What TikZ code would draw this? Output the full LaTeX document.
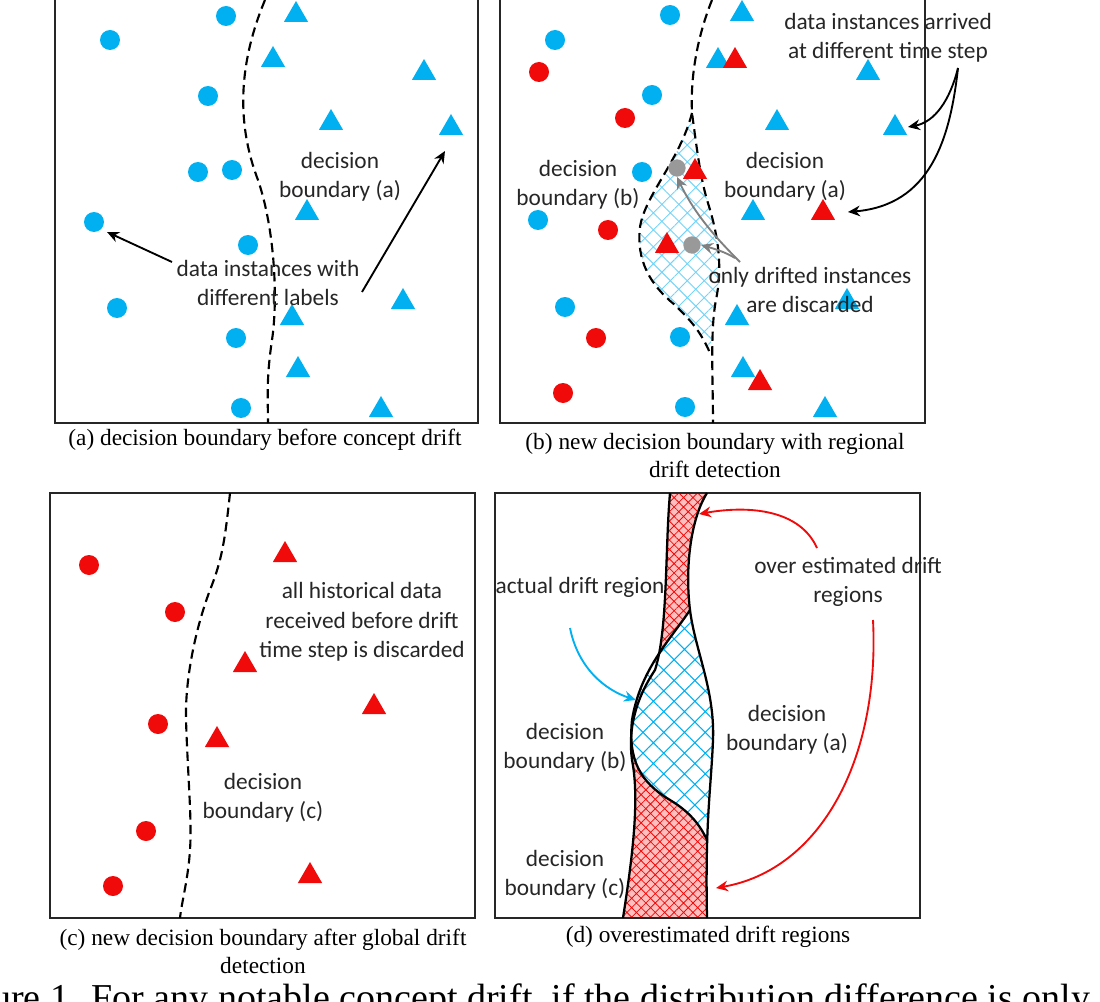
\documentclass[tikz,border=0pt]{standalone}
\usepackage{fontspec}
\setmainfont{Carlito}
\newfontfamily\capfont{Liberation Serif}
\usetikzlibrary{shapes.geometric,arrows.meta,patterns.meta}
\definecolor{cb}{RGB}{0,176,240}
\definecolor{cr}{RGB}{240,10,10}
\begin{document}
\begin{tikzpicture}[x=0.75pt,y=-0.75pt,
  cir/.style={circle,inner sep=0pt,minimum size=15pt},
  tri/.style={regular polygon,regular polygon sides=3,inner sep=0pt,minimum size=21pt},
  bc/.style={cir,fill=cb}, rc/.style={cir,fill=cr},
  bt/.style={tri,fill=cb}, rt/.style={tri,fill=cr},
  gb/.style={circle,inner sep=0pt,minimum size=13pt,fill=gray!80},
  box/.style={draw=black!85,line width=1.6pt},
  bnd/.style={line width=1.6pt,dash pattern=on 7pt off 4pt},
  sol/.style={line width=1.7pt},
  lab/.style={align=center,font=\fontsize{17.5}{22}\selectfont,text=black!85,inner sep=1pt},
  captxt/.style={align=center,font=\capfont\fontsize{17.5}{21}\selectfont,inner sep=0pt},
  arr/.style={-{Stealth[length=9pt,width=8pt]},line width=1.4pt}]
\useasboundingbox (0,0) rectangle (1100,1002);
\clip (0,0) rectangle (1100,1002);
% ---------- (a)
\draw[box] (55,-2) rectangle (478,423);
\foreach \x/\y [count=\i] in {110/40,226/16,208/96,198/172,232/170,94/222,248/245,117/308,236/338,241/408}
  \node[bc] (ac\i) at (\x,\y) {};
\foreach \x/\y [count=\i] in {296/15,273/60,424/73,331/123,451/128,307/213,403/302,292/318,298/370,381/410}
  \node[bt] (at\i) at (\x,\y) {};
\draw[bnd] (265,0) .. controls (240,60) and (235,120) .. (258,180) .. controls (275,230) and (278,300) .. (272,340) .. controls (266,380) and (268,400) .. (268,423);
\node[lab] (al1) at (340,177) {decision\\boundary (a)};
\node[lab] (al2) at (268,283) {data instances with\\different labels};
\coordinate (aa1) at (107,232);
\coordinate (aa2) at (445,151);
\draw[arr] (172,262) -- (aa1);
\draw[arr] (362,292) -- (aa2);
\node[captxt] (acap) at (265,440) {(a) decision boundary before concept drift};
% ---------- (b)
\fill[white,pattern={Hatch[angle=45,distance=9pt,line width=0.7pt]},pattern color=cb!55]
  (692,113) .. controls (697,150) and (700,175) .. (707,200) .. controls (720,240) and (722,270) .. (716,300) .. controls (712,320) and (711,340) .. (710,353)
  .. controls (700,330) and (690,320) .. (675,305) .. controls (650,285) and (636,260) .. (640,227) .. controls (645,195) and (680,160) .. (692,113) -- cycle;
\draw[box] (500,-2) rectangle (925,423);
\draw[bnd] (712,0) .. controls (700,30) and (690,70) .. (692,113) .. controls (697,150) and (700,175) .. (707,200) .. controls (720,240) and (722,270) .. (716,300) .. controls (710,330) and (713,380) .. (713,423);
\draw[bnd] (692,113) .. controls (680,160) and (645,195) .. (640,227) .. controls (636,260) and (650,285) .. (675,305) .. controls (690,320) and (700,330) .. (710,353);
\foreach \x/\y [count=\i] in {670/15,555/40,652/95,642/172,538/220,565/307,680/337,685/407}
  \node[bc] (bc\i) at (\x,\y) {};
\foreach \x/\y [count=\i] in {539/72,625/118,608/230,596/338,563/393}
  \node[rc] (br\i) at (\x,\y) {};
\foreach \x/\y [count=\i] in {742/14,718/61,868/73,777/123,895/128,753/213,737/318,743/370,847/302,825/410}
  \node[bt] (bt\i) at (\x,\y) {};
\foreach \x/\y [count=\i] in {735/61,695/172,823/213,667/246,760/383}
  \node[rt] (brt\i) at (\x,\y) {};
\node[gb] (bg1) at (677,168) {};
\node[gb] (bg2) at (692,245) {};
\node[lab] (bl1) at (888,38) {data instances arrived\\at different time step};
\node[lab] (bl2) at (785,177) {decision\\boundary (a)};
\node[lab] (bl3) at (578,185) {decision\\boundary (b)};
\node[lab] (bl4) at (810,290) {only drifted instances\\are discarded};
\coordinate (bs) at (958,68);
\coordinate (ba1) at (908,127);
\coordinate (ba2) at (848,212);
\draw[arr] (bs) .. controls (950,100) and (935,122) .. (ba1);
\draw[arr] (bs) .. controls (950,140) and (930,205) .. (ba2);
\draw[arr,gray] (740,262) .. controls (718,240) and (695,215) .. (bg1.south);
\draw[arr,gray] (735,258) .. controls (725,252) and (715,249) .. (bg2.east);
\node[captxt] (bcap) at (715,456) {(b) new decision boundary with regional\\drift detection};
% ---------- (c)
\draw[box] (50,493) rectangle (475,918);
\draw[bnd] (230,493) .. controls (225,540) and (222,560) .. (210,590) .. controls (195,630) and (185,680) .. (186,720) .. controls (188,780) and (192,820) .. (190,850) .. controls (188,880) and (182,900) .. (180,918);
\foreach \x/\y [count=\i] in {89/565,175/612,158/724,146/831,113/886}
  \node[rc] (cr\i) at (\x,\y) {};
\foreach \x/\y [count=\i] in {285/555,245/665,374/707,217/740,310/876}
  \node[rt] (ct\i) at (\x,\y) {};
\node[lab] (cl1) at (362,622) {all historical data\\received before drift\\time step is discarded};
\node[lab] (cl2) at (263,798) {decision\\boundary (c)};
\node[captxt] (ccap) at (263,951) {(c) new decision boundary after global drift\\detection};
% ---------- (d)
\fill[red!25] (670,493) .. controls (665,550) and (668,630) .. (655,670) .. controls (635,700) and (628,730) .. (632,760) .. controls (640,800) and (632,860) .. (623,918)
  -- (707,918) .. controls (705,820) and (711,790) .. (713,740) .. controls (715,690) and (695,650) .. (690,610) .. controls (685,570) and (690,520) .. (707,493) -- cycle;
\fill[pattern={Hatch[angle=45,distance=5pt,line width=0.6pt]},pattern color=cr] (670,493) .. controls (665,550) and (668,630) .. (655,670) .. controls (635,700) and (628,730) .. (632,760) .. controls (640,800) and (632,860) .. (623,918)
  -- (707,918) .. controls (705,820) and (711,790) .. (713,740) .. controls (715,690) and (695,650) .. (690,610) .. controls (685,570) and (690,520) .. (707,493) -- cycle;
\fill[white] (690,610) .. controls (695,650) and (715,690) .. (713,740) .. controls (711,790) and (706,815) .. (707,840)
  .. controls (700,825) and (690,812) .. (670,800) .. controls (640,782) and (628,760) .. (632,720) .. controls (640,670) and (670,640) .. (690,610) -- cycle;
\fill[pattern={Hatch[angle=45,distance=11pt,line width=0.8pt]},pattern color=cb] (690,610) .. controls (695,650) and (715,690) .. (713,740) .. controls (711,790) and (706,815) .. (707,840)
  .. controls (700,825) and (690,812) .. (670,800) .. controls (640,782) and (628,760) .. (632,720) .. controls (640,670) and (670,640) .. (690,610) -- cycle;
\draw[box] (495,493) rectangle (920,918);
\draw[sol] (707,493) .. controls (690,520) and (685,570) .. (690,610) .. controls (695,650) and (715,690) .. (713,740) .. controls (711,790) and (705,820) .. (707,918);
\draw[sol] (670,493) .. controls (665,550) and (668,630) .. (655,670) .. controls (635,700) and (628,730) .. (632,760) .. controls (640,800) and (632,860) .. (623,918);
\draw[sol] (690,610) .. controls (670,640) and (640,670) .. (632,720) .. controls (628,760) and (640,782) .. (670,800) .. controls (690,812) and (700,825) .. (707,840);
\node[lab] (dl1) at (580,587) {actual drift region};
\node[lab] (dl2) at (848,582) {over estimated drift\\regions};
\node[lab] (dl3) at (787,730) {decision\\boundary (a)};
\node[lab] (dl4) at (565,748) {decision\\boundary (b)};
\node[lab] (dl5) at (565,875) {decision\\boundary (c)};
\coordinate (dr1) at (699,514);
\coordinate (dr2) at (716,888);
\coordinate (db1) at (636,700);
\draw[arr,cr] (817,548) .. controls (800,510) and (750,505) .. (dr1);
\draw[arr,cr] (873,620) .. controls (880,760) and (820,870) .. (dr2);
\draw[arr,cb] (570,628) .. controls (578,668) and (605,690) .. (db1);
\node[captxt] (dcap) at (708,937) {(d) overestimated drift regions};
% ---------- cut-off figure caption
\node[font=\capfont\fontsize{28.5}{30}\selectfont,anchor=base west,inner sep=0pt] (fig) at (-8,1010) {ure 1. For any notable concept drift, if the distribution difference is only};
\end{tikzpicture}
\end{document}
